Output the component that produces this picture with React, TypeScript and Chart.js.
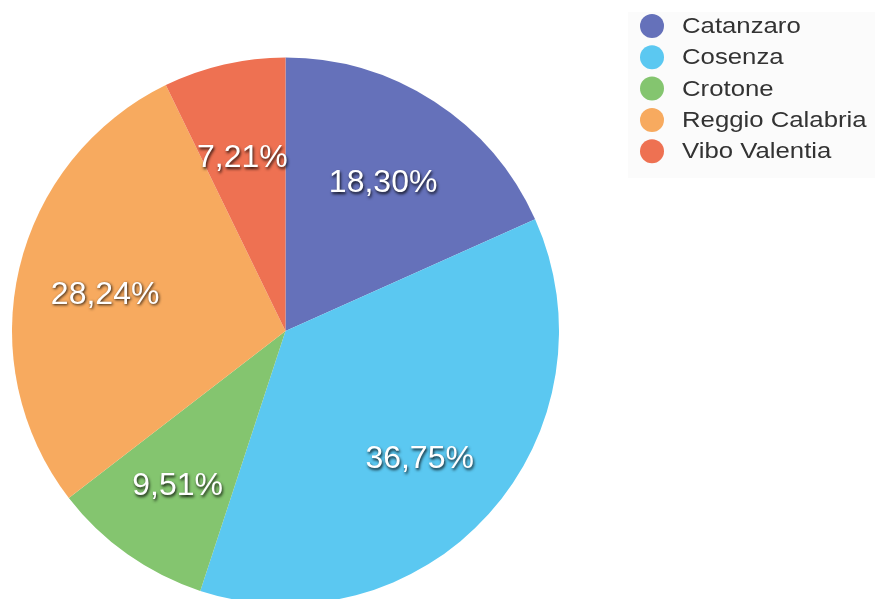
import React, { useEffect, useRef } from "react";
import { Chart, registerables } from "chart.js";

Chart.register(...registerables);

const categories = ["Catanzaro", "Cosenza", "Crotone", "Reggio Calabria", "Vibo Valentia"];
const shares = [18.3, 36.75, 9.51, 28.24, 7.21];
const colors = ["#6571ba", "#5bc8f1", "#84c56f", "#f7aa5f", "#ee7152"];

const fmt = (v: number) => v.toFixed(2).replace(".", ",") + "%";

const labelPlugin = {
  id: "sliceLabels",
  afterDatasetsDraw(chart: any) {
    const ctx = chart.ctx;
    const meta = chart.getDatasetMeta(0);
    ctx.save();
    ctx.font = "32px 'Liberation Sans', Arial, sans-serif";
    ctx.textAlign = "center";
    ctx.textBaseline = "middle";
    ctx.fillStyle = "#ffffff";
    ctx.shadowColor = "rgba(0,0,0,0.85)";
    ctx.shadowBlur = 3;
    ctx.shadowOffsetX = 1;
    ctx.shadowOffsetY = 1.5;
    meta.data.forEach((arc: any, i: number) => {
      const p = arc.getProps(["x", "y", "startAngle", "endAngle", "outerRadius"], true);
      const mid = (p.startAngle + p.endAngle) / 2;
      const r = p.outerRadius * 0.67;
      ctx.fillText(fmt(shares[i]), p.x + Math.cos(mid) * r - 2, p.y + Math.sin(mid) * r + 6);
    });
    ctx.restore();
  },
};

const legendPlugin = {
  id: "customLegend",
  afterDraw(chart: any) {
    const ctx = chart.ctx;
    ctx.save();
    ctx.fillStyle = "#fbfbfb";
    ctx.fillRect(628, 12, 247, 166);
    categories.forEach((name, i) => {
      const y = 26 + i * 31.3;
      ctx.beginPath();
      ctx.fillStyle = colors[i];
      ctx.arc(652, y, 12, 0, Math.PI * 2);
      ctx.fill();
      ctx.save();
      ctx.translate(682, y + 1);
      ctx.scale(1.17, 1);
      ctx.fillStyle = "#333333";
      ctx.font = "22px 'Liberation Sans', Arial, sans-serif";
      ctx.textAlign = "left";
      ctx.textBaseline = "middle";
      ctx.fillText(name, 0, 0);
      ctx.restore();
    });
    ctx.restore();
  },
};

export default function App() {
  const ref = useRef<HTMLCanvasElement>(null);
  useEffect(() => {
    document.body.style.margin = "0";
    document.body.style.overflow = "hidden";
    const chart = new Chart(ref.current!, {
      type: "pie",
      data: {
        labels: categories,
        datasets: [
          {
            data: shares,
            backgroundColor: colors,
            borderWidth: 0,
          },
        ],
      },
      options: {
        responsive: false,
        animation: false,
        layout: { padding: { left: 12, right: 316, top: 57, bottom: 5 } },
        plugins: {
          legend: { display: false },
          tooltip: { enabled: false },
        },
      },
      plugins: [labelPlugin, legendPlugin],
    });
    return () => chart.destroy();
  }, []);
  return (
    <div style={{ position: "fixed", left: 0, top: 0, width: 875, height: 599, overflow: "hidden", background: "#fff" }}>
      <canvas ref={ref} width={875} height={610} style={{ width: 875, height: 610, display: "block" }} />
    </div>
  );
}
